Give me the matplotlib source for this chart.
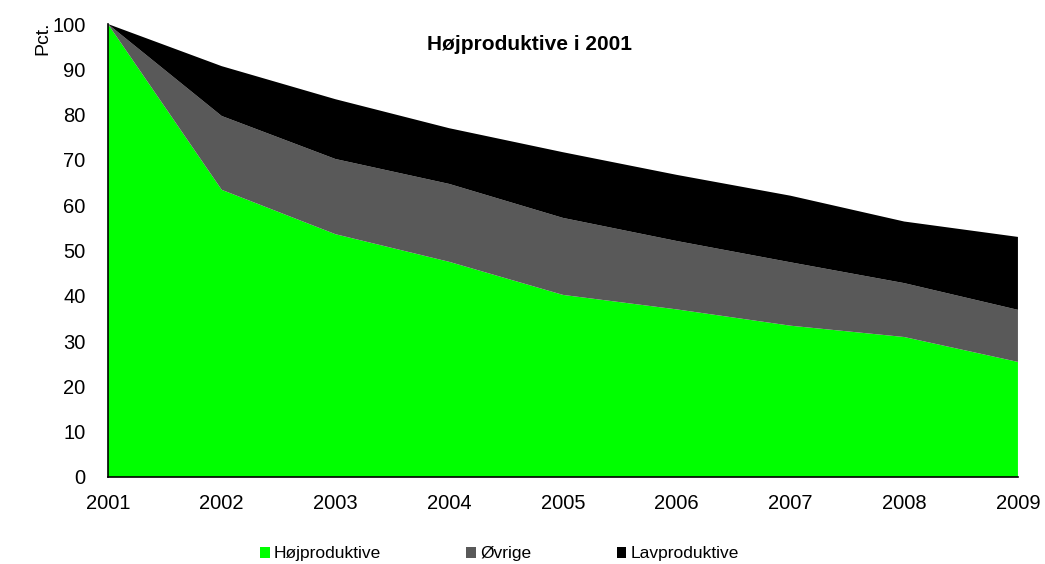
import numpy as np
import matplotlib.pyplot as plt
from matplotlib.patches import Patch

plt.rcParams['font.family'] = ['Liberation Sans', 'DejaVu Sans']

# Share of firms that were highly productive in 2001, by status in later years
years = [2001, 2002, 2003, 2004, 2005, 2006, 2007, 2008, 2009]
hoej = [100, 63.4, 53.6, 47.5, 40.2, 37.0, 33.4, 30.9, 25.4]
oevrige = [0, 16.3, 16.6, 17.2, 17.0, 15.1, 14.0, 11.9, 11.5]
lav = [0, 11.0, 13.2, 12.3, 14.5, 14.6, 14.7, 13.6, 16.1]

labels = ['Højproduktive', 'Øvrige', 'Lavproduktive']
colors = ['#00ff00', '#595959', '#000000']

fig = plt.figure(figsize=(10.45, 5.64), dpi=100)
ax = fig.add_axes([0.1033, 0.1543, 0.8708, 0.8031])

ax.stackplot(years, hoej, oevrige, lav, colors=colors, linewidth=0)

ax.set_xlim(2001, 2009)
ax.set_ylim(0, 100)
ax.set_xticks(years)
ax.set_yticks(np.arange(0, 101, 10))
ax.tick_params(axis='both', length=0, labelsize=14.5)
ax.tick_params(axis='y', pad=16)
ax.tick_params(axis='x', pad=12)
for s in ['top', 'right']:
    ax.spines[s].set_visible(False)
for s in ['left', 'bottom']:
    ax.spines[s].set_linewidth(1.2)

ax.text(0.4637, 0.955, 'Højproduktive i 2001', transform=ax.transAxes,
        ha='center', va='center', fontsize=15, fontweight='bold')
fig.text(0.041, 0.962, 'Pct.', rotation=90, ha='center', va='top', fontsize=14)

handles = [Patch(facecolor=c, edgecolor='none') for c in colors]
fig.legend(handles, labels, loc='center', bbox_to_anchor=(0.478, 0.018), ncol=3,
           frameon=False, fontsize=12.5, handlelength=0.55, handleheight=0.6,
           handletextpad=0.25, columnspacing=4.9)

plt.savefig('out.png', dpi=100)
